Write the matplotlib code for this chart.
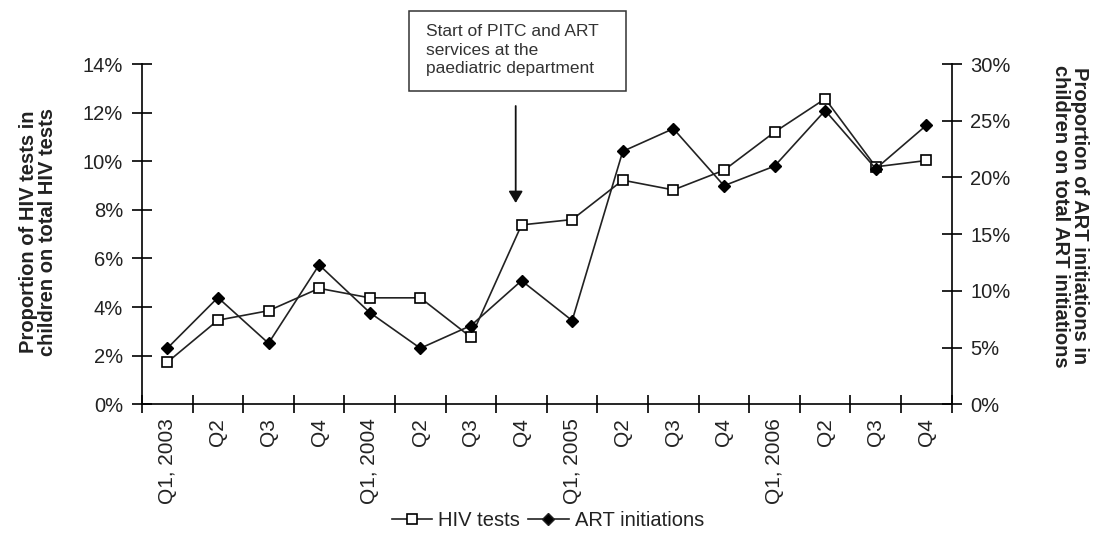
import matplotlib
matplotlib.use("Agg")
import matplotlib.pyplot as plt
from matplotlib.lines import Line2D
from matplotlib.patches import Rectangle, FancyArrowPatch
from matplotlib.ticker import FixedLocator, PercentFormatter, NullFormatter

plt.rcParams['font.family'] = ['Liberation Sans', 'DejaVu Sans']

quarters = ["Q1, 2003", "Q2", "Q3", "Q4",
            "Q1, 2004", "Q2", "Q3", "Q4",
            "Q1, 2005", "Q2", "Q3", "Q4",
            "Q1, 2006", "Q2", "Q3", "Q4"]
hiv_tests = [1.73, 3.46, 3.85, 4.77, 4.38, 4.38, 2.76, 7.38,
             7.60, 9.22, 8.82, 9.63, 11.20, 12.57, 9.77, 10.03]
art_init = [4.94, 9.41, 5.38, 12.29, 8.09, 4.94, 6.94, 10.90,
            7.38, 22.30, 24.30, 19.27, 21.00, 25.90, 20.77, 24.60]
left_ticks = [0, 2, 4, 6, 8, 10, 12, 14]
right_ticks = [0, 5, 10, 15, 20, 25, 30]

W, H = 1096, 553
fig = plt.figure(figsize=(W / 100, H / 100), dpi=100)
ax = fig.add_axes([142 / W, 1 - 404.3 / H, (951.7 - 142) / W, (404.3 - 64) / H])
ax2 = ax.twinx()

x = list(range(len(quarters)))
lw = 1.2
ax.plot(x, hiv_tests, color='#222222', lw=lw, marker='s', ms=7.2,
        mfc='white', mec='black', mew=1.2, zorder=3)
ax2.plot(x, art_init, color='#222222', lw=lw, marker='D', ms=6.5,
         mfc='black', mec='black', zorder=3)

ax.set_xlim(-0.5, len(quarters) - 0.5)
ax.set_ylim(0, 14)
ax2.set_ylim(0, 30)

# x ticks at boundaries, labels at centres
ax.xaxis.set_major_locator(FixedLocator([i - 0.5 for i in range(len(quarters) + 1)]))
ax.xaxis.set_major_formatter(NullFormatter())
ax.xaxis.set_minor_locator(FixedLocator(x))
ax.set_xticklabels(quarters, minor=True, rotation=90, fontsize=15, color='#222222')
ax.tick_params(axis='x', which='major', direction='inout', length=13, width=1.2)
ax.tick_params(axis='x', which='minor', length=0, pad=10)

ax.set_yticks(left_ticks)
ax.yaxis.set_major_formatter(PercentFormatter(decimals=0))
ax.tick_params(axis='y', direction='inout', length=15, width=1.2, labelsize=14.5,
               labelcolor='#222222', pad=6)
ax2.set_yticks(right_ticks)
ax2.yaxis.set_major_formatter(PercentFormatter(decimals=0))
ax2.tick_params(axis='y', direction='inout', length=15, width=1.2, labelsize=14.5,
                labelcolor='#222222', pad=6)

for a in (ax, ax2):
    a.spines['top'].set_visible(False)
    for s in ('left', 'right', 'bottom'):
        a.spines[s].set_linewidth(1.2)
ax.spines['right'].set_visible(False)
ax2.spines['left'].set_visible(False)
ax2.spines['bottom'].set_visible(False)

fig.text(38 / W, 1 - 232 / H, "Proportion of HIV tests in\nchildren on total HIV tests",
         rotation=90, ha='center', va='center', fontsize=14.5, fontweight='bold',
         linespacing=1.02, color='#222222')
fig.text(1070 / W, 1 - 216 / H,
         "Proportion of ART initiations in\nchildren on total ART initiations",
         rotation=270, ha='center', va='center', fontsize=14.5, fontweight='bold',
         linespacing=1.02, color='#222222')

# annotation box
fig.text(426 / W, 1 - 24 / H,
         "Start of PITC and ART\nservices at the\npaediatric department",
         ha='left', va='top', fontsize=12.5, linespacing=1.3, color='#333333')
fig.patches.append(Rectangle((409 / W, 1 - 90.7 / H), (626 - 409) / W, (90.7 - 10.7) / H,
                             transform=fig.transFigure, fill=False, ec='#333333', lw=1.1))
fig.add_artist(FancyArrowPatch(
    (515.7 / W, 1 - 106 / H), (515.7 / W, 1 - 203 / H), transform=fig.transFigure,
    arrowstyle='-|>,head_length=0.5,head_width=0.3', mutation_scale=14,
    lw=1.3, color='#111111', shrinkA=0, shrinkB=0))

handles = [Line2D([], [], color='#222222', lw=lw, marker='s', ms=7.2, mfc='white',
                  mec='black', mew=1.2),
           Line2D([], [], color='#222222', lw=lw, marker='D', ms=6.5, mfc='black')]
fig.legend(handles, ["HIV tests", "ART initiations"], loc='center',
           bbox_to_anchor=(548 / W, 1 - 521 / H), ncol=2, frameon=False,
           fontsize=14.5, handlelength=2.0, handletextpad=0.3, columnspacing=0.4,
           borderpad=0, labelcolor='#222222')

fig.savefig("out.png", dpi=100)
